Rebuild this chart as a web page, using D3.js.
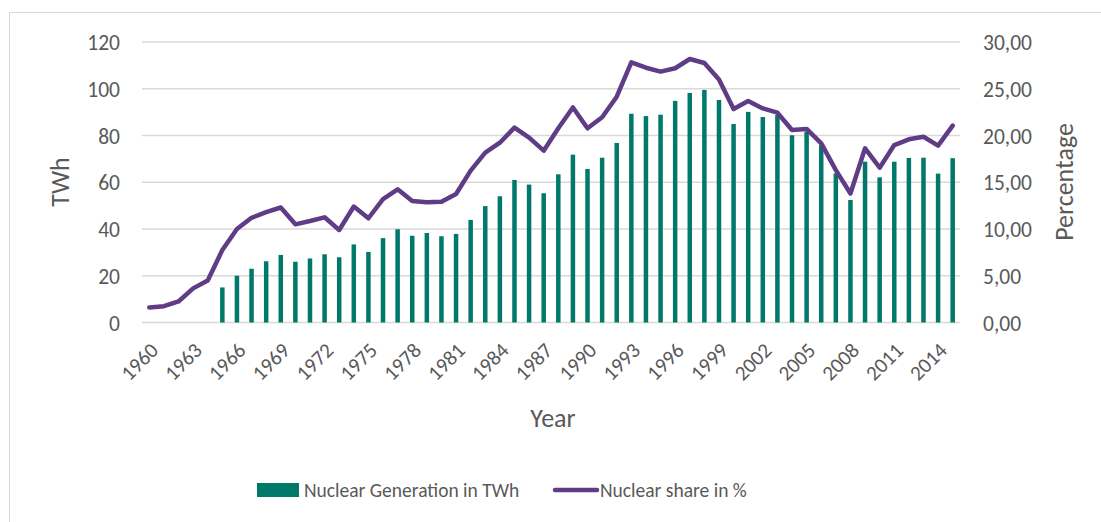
<!DOCTYPE html>
<html lang="en">
<head>
<meta charset="utf-8">
<title>Nuclear generation and share</title>
<script src="https://d3js.org/d3.v7.min.js"></script>
<style>
  body { margin: 0; background: #fff; }
  text { font-family: Carlito, Calibri, "Liberation Sans", sans-serif; fill: #595959; }
</style>
</head>
<body>
<script>
// data
var years = d3.range(1960, 2016);
var generation = [null, null, null, null, null, 15.0, 20.0, 23.0, 26.2, 28.9,
  26.0, 27.4, 29.2, 27.9, 33.4, 30.2, 36.1, 39.9, 37.1, 38.3,
  36.9, 37.9, 43.9, 49.8, 54.0, 61.0, 59.0, 55.3, 63.4, 71.8,
  65.7, 70.5, 76.8, 89.3, 88.3, 88.9, 94.8, 98.2, 99.5, 95.2,
  84.9, 90.1, 87.9, 88.8, 80.1, 81.6, 75.9, 63.8, 52.4, 68.8,
  62.1, 68.8, 70.4, 70.5, 63.7, 70.3];
var share = [1.6, 1.75, 2.25, 3.65, 4.5, 7.75, 10.0, 11.2, 11.8, 12.3,
  10.5, 10.85, 11.25, 9.9, 12.4, 11.15, 13.2, 14.25, 13.0, 12.85,
  12.92, 13.74, 16.24, 18.16, 19.23, 20.84, 19.77, 18.38, 20.77, 23.0,
  20.77, 21.95, 24.15, 27.83, 27.25, 26.83, 27.19, 28.18, 27.75, 26.0,
  22.83, 23.69, 22.9, 22.44, 20.59, 20.7, 19.16, 16.3, 13.8, 18.63,
  16.56, 18.98, 19.59, 19.87, 18.91, 21.05];
var leftTicks = [0, 20, 40, 60, 80, 100, 120];
var rightTicks = [0, 5, 10, 15, 20, 25, 30];

var W = 1101, H = 522;
var plotLeft = 142, plotRight = 960, plotTop = 42, plotBottom = 322.5;
var barColor = "#00796b", lineColor = "#5f3c85";

var svg = d3.select("body").append("svg")
  .attr("width", W).attr("height", H);

// chart border
svg.append("rect")
  .attr("x", 9.5).attr("y", 12.5)
  .attr("width", W).attr("height", H)
  .attr("fill", "none").attr("stroke", "#d9d9d9");

var x = d3.scaleBand().domain(years).range([plotLeft, plotRight]);
var y = d3.scaleLinear().domain([0, 120]).range([plotBottom, plotTop]);
var y2 = d3.scaleLinear().domain([0, 30]).range([plotBottom, plotTop]);

// gridlines
svg.append("g").selectAll("line").data(leftTicks).enter().append("line")
  .attr("x1", plotLeft).attr("x2", plotRight)
  .attr("y1", d => y(d)).attr("y2", d => y(d))
  .attr("stroke", "#d9d9d9").attr("stroke-width", 1.3);

// left axis
var yAxis = svg.append("g")
  .attr("transform", "translate(" + (plotLeft - 22) + ",0)")
  .call(d3.axisLeft(y).tickValues(leftTicks).tickSize(0).tickPadding(0));
yAxis.select(".domain").remove();
yAxis.selectAll("text").attr("font-size", 21.5).attr("dy", "0.35em");

// right axis
var fmt = d => d3.format(".2f")(d).replace(".", ",");
var y2Axis = svg.append("g")
  .attr("transform", "translate(" + (plotRight + 23) + ",0)")
  .call(d3.axisRight(y2).tickValues(rightTicks).tickSize(0).tickPadding(0).tickFormat(fmt));
y2Axis.select(".domain").remove();
y2Axis.selectAll("text").attr("font-size", 21.5).attr("dy", "0.35em");

// x axis labels (every 3 years)
var xAxis = svg.append("g")
  .attr("transform", "translate(0," + plotBottom + ")")
  .call(d3.axisBottom(x).tickValues(years.filter(d => (d - 1960) % 3 === 0)).tickSize(0).tickPadding(0));
xAxis.select(".domain").remove();
xAxis.selectAll("text")
  .attr("font-size", 21)
  .attr("text-anchor", "end")
  .attr("dy", "0.35em")
  .attr("transform", "translate(5,24) rotate(-45)")
  .attr("x", 0).attr("y", 0);

// remove d3 default axis font attributes so css applies
svg.selectAll("g").attr("font-family", null);

// bars
var bw = 4.5;
svg.append("g").selectAll("rect")
  .data(years.map((yr, i) => ({ yr: yr, v: generation[i] })).filter(d => d.v != null))
  .enter().append("rect")
  .attr("x", d => x(d.yr) + x.bandwidth() / 2 - bw / 2)
  .attr("width", bw)
  .attr("y", d => y(d.v))
  .attr("height", d => plotBottom - y(d.v))
  .attr("fill", barColor);

// share line
var line = d3.line()
  .x((d, i) => x(years[i]) + x.bandwidth() / 2)
  .y(d => y2(d));
svg.append("path").datum(share)
  .attr("d", line)
  .attr("fill", "none")
  .attr("stroke", lineColor)
  .attr("stroke-width", 4.5)
  .attr("stroke-linejoin", "round")
  .attr("stroke-linecap", "round");

// axis titles
svg.append("text").attr("transform", "translate(69,182) rotate(-90)")
  .attr("text-anchor", "middle").attr("font-size", 26).text("TWh");
svg.append("text").attr("transform", "translate(1073,182) rotate(-90)")
  .attr("text-anchor", "middle").attr("font-size", 26).text("Percentage");
svg.append("text").attr("x", 553).attr("y", 427)
  .attr("text-anchor", "middle").attr("font-size", 26).text("Year");

// legend
var lg = svg.append("g");
lg.append("rect").attr("x", 257).attr("y", 483).attr("width", 42).attr("height", 14)
  .attr("fill", barColor);
lg.append("text").attr("x", 304).attr("y", 497).attr("font-size", 19.5)
  .text("Nuclear Generation in TWh");
lg.append("line").attr("x1", 555).attr("x2", 597).attr("y1", 490).attr("y2", 490)
  .attr("stroke", lineColor).attr("stroke-width", 4.5).attr("stroke-linecap", "round");
lg.append("text").attr("x", 600).attr("y", 497).attr("font-size", 19.5)
  .text("Nuclear share in %");
</script>
</body>
</html>
